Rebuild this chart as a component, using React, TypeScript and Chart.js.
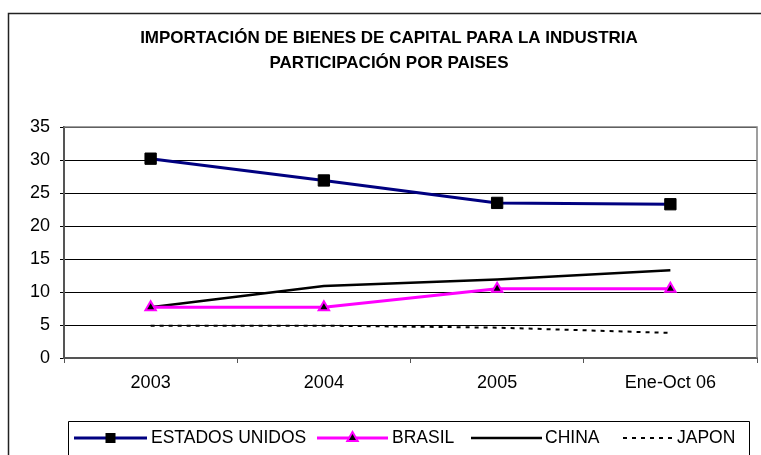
import React, { useEffect, useRef } from 'react';
import { Chart, registerables } from 'chart.js';

Chart.register(...registerables);

const categories = ['2003', '2004', '2005', 'Ene-Oct 06'];
const estadosUnidos = [30.2, 26.9, 23.5, 23.3];
const brasil = [7.7, 7.7, 10.5, 10.5];
const china = [7.7, 10.9, 11.9, 13.3];
const japon = [4.9, 4.9, 4.6, 3.8];
const seriesNames = ['ESTADOS UNIDOS', 'BRASIL', 'CHINA', 'JAPON'];
const titleLines = ['IMPORTACIÓN DE BIENES DE CAPITAL PARA LA INDUSTRIA', 'PARTICIPACIÓN POR PAISES'];
const yMin = 0;
const yMax = 35;
const yStep = 5;

const FONT = '"Liberation Sans", Arial, sans-serif';
const VIEW_W = 761;
const VIEW_H = 455;
const CANVAS_W = 766; // slightly wider than the view; the extra strip is clipped

// legend item layout: [lineStart, lineEnd, textStart]
const legendLayout = [
  [74, 147, 151],
  [317, 388, 392],
  [471, 542, 545],
  [623, 672, 677],
];

const framePlugin = {
  id: 'framePlugin',
  beforeDraw(chart: any) {
    const ctx = chart.ctx;
    ctx.save();
    ctx.fillStyle = '#ffffff';
    ctx.fillRect(0, 0, chart.width, chart.height);
    // outer chart border: only its top and left edges are inside the view
    ctx.strokeStyle = '#222222';
    ctx.lineWidth = 1.5;
    ctx.beginPath();
    ctx.moveTo(8.5, chart.height + 5);
    ctx.lineTo(8.5, 13.5);
    ctx.lineTo(chart.width + 5, 13.5);
    ctx.stroke();
    // title
    ctx.fillStyle = '#000000';
    ctx.font = `bold 17px ${FONT}`;
    ctx.textAlign = 'center';
    ctx.textBaseline = 'middle';
    ctx.fillText(titleLines[0], 389, 38);
    ctx.fillText(titleLines[1], 389, 63.5);
    ctx.restore();
  },
  beforeDatasetsDraw(chart: any) {
    const { ctx, chartArea } = chart;
    ctx.save();
    ctx.strokeStyle = '#808080';
    ctx.lineWidth = 1.5;
    ctx.beginPath();
    ctx.moveTo(chartArea.left, chartArea.top);
    ctx.lineTo(chartArea.right, chartArea.top);
    ctx.lineTo(chartArea.right, chartArea.bottom);
    ctx.stroke();
    ctx.restore();
  },
  afterDraw(chart: any) {
    const ctx = chart.ctx;
    ctx.save();
    // legend box (bottom edge lies below the view)
    ctx.strokeStyle = '#000000';
    ctx.lineWidth = 1;
    ctx.beginPath();
    ctx.moveTo(68.5, chart.height + 5);
    ctx.lineTo(68.5, 421.5);
    ctx.lineTo(749.5, 421.5);
    ctx.lineTo(749.5, chart.height + 5);
    ctx.stroke();
    const y = 438;
    chart.data.datasets.forEach((ds: any, i: number) => {
      const [x0, x1, tx] = legendLayout[i];
      ctx.save();
      ctx.strokeStyle = ds.borderColor;
      ctx.lineWidth = ds.borderWidth;
      ctx.setLineDash(ds.borderDash || []);
      ctx.beginPath();
      ctx.moveTo(x0, y);
      ctx.lineTo(x1, y);
      ctx.stroke();
      ctx.restore();
      const mx = (x0 + x1) / 2;
      if (ds.pointStyle === 'rect' && ds.pointRadius > 0) {
        ctx.fillStyle = ds.pointBackgroundColor;
        ctx.fillRect(mx - 5, y - 5, 10, 10);
      } else if (ds.pointStyle === 'triangle' && ds.pointRadius > 0) {
        const r = ds.pointRadius;
        ctx.beginPath();
        for (let k = 0; k < 3; k++) {
          const a = (k * 2 * Math.PI) / 3;
          const px = mx + Math.sin(a) * r;
          const py = y - Math.cos(a) * r;
          if (k === 0) ctx.moveTo(px, py);
          else ctx.lineTo(px, py);
        }
        ctx.closePath();
        ctx.fillStyle = ds.pointBackgroundColor;
        ctx.fill();
        ctx.strokeStyle = ds.pointBorderColor;
        ctx.lineWidth = ds.pointBorderWidth;
        ctx.stroke();
      }
      ctx.fillStyle = '#000000';
      ctx.font = `17.5px ${FONT}`;
      ctx.textAlign = 'left';
      ctx.textBaseline = 'middle';
      ctx.fillText(ds.label, tx, y);
    });
    ctx.restore();
  },
};

export default function App() {
  const canvasRef = useRef<HTMLCanvasElement | null>(null);

  useEffect(() => {
    const canvas = canvasRef.current;
    if (!canvas) return;
    const chart = new Chart(canvas, {
      type: 'line',
      data: {
        labels: categories,
        datasets: [
          {
            label: seriesNames[0],
            data: estadosUnidos,
            borderColor: '#000080',
            borderWidth: 3,
            pointStyle: 'rect',
            pointRadius: 8,
            pointBackgroundColor: '#000000',
            pointBorderColor: '#000000',
            pointBorderWidth: 1,
            tension: 0,
          },
          {
            label: seriesNames[1],
            data: brasil,
            borderColor: '#FF00FF',
            borderWidth: 3,
            pointStyle: 'triangle',
            pointRadius: 6,
            pointBackgroundColor: '#000000',
            pointBorderColor: '#FF00FF',
            pointBorderWidth: 2,
            tension: 0,
          },
          {
            label: seriesNames[2],
            data: china,
            borderColor: '#000000',
            borderWidth: 2.5,
            pointRadius: 0,
            tension: 0,
          },
          {
            label: seriesNames[3],
            data: japon,
            borderColor: '#000000',
            borderWidth: 2,
            borderDash: [4, 5],
            pointRadius: 0,
            tension: 0,
          },
        ],
      } as any,
      options: {
        responsive: false,
        animation: false,
        devicePixelRatio: 1,
        layout: { padding: { top: 127, right: 4, left: 0, bottom: 0 } },
        plugins: {
          legend: { display: false },
          title: { display: false },
          tooltip: { enabled: false },
        },
        scales: {
          x: {
            offset: true,
            grid: {
              offset: true,
              drawOnChartArea: false,
              drawTicks: true,
              tickLength: 5,
              color: '#555555',
              lineWidth: 1,
            },
            border: { display: true, color: '#555555', width: 2 },
            ticks: {
              color: '#000000',
              font: { family: FONT, size: 18 },
              padding: 9,
              maxRotation: 0,
              autoSkip: false,
            },
            afterFit(scale: any) {
              scale.height = 97;
            },
          },
          y: {
            min: yMin,
            max: yMax,
            grid: {
              color: '#000000',
              lineWidth: 1,
              drawTicks: true,
              tickLength: 4,
            },
            border: { display: true, color: '#555555', width: 2 },
            ticks: {
              stepSize: yStep,
              color: '#000000',
              font: { family: FONT, size: 18 },
              padding: 10,
            },
            afterFit(scale: any) {
              scale.width = 64;
            },
          },
        },
      } as any,
      plugins: [framePlugin],
    });
    return () => chart.destroy();
  }, []);

  return (
    <div style={{ position: 'fixed', left: 0, top: 0, width: VIEW_W, height: VIEW_H, background: '#fff', overflow: 'hidden' }}>
      <canvas ref={canvasRef} width={CANVAS_W} height={VIEW_H} style={{ display: 'block' }} />
    </div>
  );
}
